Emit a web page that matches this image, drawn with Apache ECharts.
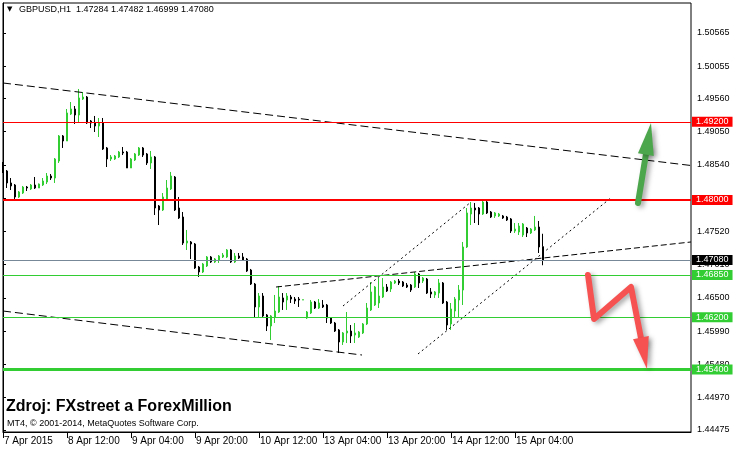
<!DOCTYPE html>
<html><head><meta charset="utf-8">
<script src="https://cdn.jsdelivr.net/npm/echarts@6/dist/echarts.min.js"></script>
<style>html,body{margin:0;padding:0;background:#fff}#c{width:734px;height:451px}</style>
</head><body><div id="c"></div>
<script>
// GBPUSD H1 bars, 7 Apr 2015 20:00 .. 15 Apr 2015 11:00
const open = [
1.48506,1.48445,1.48261,1.48230,1.48046,1.48107,1.48199,1.48169,1.48230,1.48184,
1.48230,1.48276,1.48368,1.48337,1.48598,1.48982,1.48905,1.49319,1.49396,1.49304,
1.49549,1.49580,1.49212,1.49181,1.49135,1.49181,1.48798,1.48629,1.48629,1.48660,
1.48736,1.48736,1.48491,1.48614,1.48690,1.48798,1.48706,1.48568,1.48660,1.47908,
1.47847,1.48015,1.48169,1.48353,1.47877,1.47739,1.47340,1.47356,1.47325,1.46972,
1.46896,1.46988,1.47126,1.47049,1.47080,1.47126,1.47126,1.47233,1.47049,1.47141,
1.47126,1.47095,1.46926,1.46711,1.46359,1.46527,1.46236,1.46067,1.46205,1.46282,
1.46497,1.46466,1.46512,1.46481,1.46481,1.46466,1.46190,1.46267,1.46435,1.46343,
1.46389,1.46389,1.46190,1.46113,1.46006,1.45822,1.45960,1.45990,1.45929,1.45898,
1.45960,1.46098,1.46313,1.46389,1.46420,1.46512,1.46665,1.46635,1.46727,1.46757,
1.46742,1.46696,1.46696,1.46665,1.46865,1.46757,1.46788,1.46589,1.46543,1.46573,
1.46727,1.46435,1.46098,1.46297,1.46466,1.46619,1.47279,1.47785,1.47877,1.47877,
1.47785,1.47969,1.47816,1.47755,1.47755,1.47755,1.47739,1.47709,1.47524,1.47509,
1.47463,1.47570,1.47494,1.47540,1.47586,1.47284];
const close = [
1.48430,1.48261,1.48215,1.48046,1.48123,1.48199,1.48184,1.48230,1.48184,1.48245,
1.48291,1.48368,1.48337,1.48629,1.48982,1.48905,1.49335,1.49396,1.49304,1.49565,
1.49580,1.49181,1.49181,1.49135,1.49181,1.48782,1.48629,1.48660,1.48675,1.48736,
1.48721,1.48491,1.48629,1.48706,1.48798,1.48690,1.48568,1.48660,1.47877,1.47847,
1.48046,1.48184,1.48368,1.47847,1.47724,1.47340,1.47371,1.47325,1.46957,1.46896,
1.47018,1.47126,1.47049,1.47095,1.47141,1.47156,1.47233,1.47049,1.47141,1.47110,
1.47080,1.46911,1.46711,1.46359,1.46527,1.46221,1.46067,1.46221,1.46297,1.46512,
1.46435,1.46527,1.46481,1.46451,1.46466,1.46470,1.46282,1.46435,1.46343,1.46420,
1.46359,1.46190,1.46113,1.45990,1.45822,1.45960,1.45990,1.45914,1.45960,1.45975,
1.46098,1.46343,1.46589,1.46665,1.46527,1.46665,1.46604,1.46742,1.46757,1.46727,
1.46681,1.46665,1.46619,1.46865,1.46727,1.46803,1.46573,1.46558,1.46589,1.46727,
1.46420,1.46082,1.46328,1.46481,1.46619,1.47279,1.47801,1.47877,1.47847,1.47785,
1.47969,1.47801,1.47739,1.47801,1.47785,1.47724,1.47693,1.47524,1.47555,1.47601,
1.47632,1.47494,1.47555,1.47586,1.47279,1.47080];
const low = [
1.48414,1.48184,1.48153,1.48000,1.48031,1.48092,1.48138,1.48153,1.48169,1.48184,
1.48215,1.48245,1.48307,1.48261,1.48568,1.48798,1.48905,1.49304,1.49166,1.49181,
1.49534,1.49166,1.49104,1.49043,1.48966,1.48767,1.48506,1.48598,1.48614,1.48644,
1.48690,1.48491,1.48491,1.48598,1.48675,1.48660,1.48537,1.48476,1.47770,1.47616,
1.47831,1.48000,1.48153,1.47831,1.47709,1.47310,1.47233,1.47095,1.46942,1.46819,
1.46880,1.46972,1.47034,1.47034,1.47034,1.47110,1.47110,1.47034,1.47034,1.47095,
1.47064,1.46896,1.46696,1.46205,1.46205,1.46205,1.45990,1.45852,1.46113,1.46267,
1.46313,1.46313,1.46420,1.46405,1.46359,1.46466,1.46175,1.46251,1.46328,1.46328,
1.46343,1.46113,1.46098,1.45975,1.45653,1.45776,1.45806,1.45806,1.45806,1.45883,
1.45944,1.46082,1.46297,1.46374,1.46343,1.46497,1.46589,1.46589,1.46711,1.46696,
1.46665,1.46650,1.46589,1.46650,1.46650,1.46727,1.46558,1.46497,1.46497,1.46497,
1.46405,1.46006,1.46006,1.46205,1.46190,1.46389,1.47264,1.47616,1.47647,1.47616,
1.47770,1.47785,1.47724,1.47724,1.47739,1.47709,1.47678,1.47494,1.47494,1.47463,
1.47432,1.47432,1.47478,1.47524,1.47187,1.46999];
const high = [
1.48583,1.48460,1.48337,1.48245,1.48138,1.48215,1.48215,1.48245,1.48353,1.48253,
1.48337,1.48414,1.48399,1.48644,1.48997,1.48997,1.49396,1.49503,1.49442,1.49703,
1.49657,1.49595,1.49227,1.49289,1.49258,1.49258,1.48813,1.48690,1.48690,1.48752,
1.48813,1.48752,1.48644,1.48721,1.48813,1.48813,1.48721,1.48752,1.48675,1.47923,
1.48107,1.48307,1.48430,1.48368,1.48046,1.47816,1.47540,1.47371,1.47340,1.46988,
1.47034,1.47141,1.47141,1.47110,1.47156,1.47187,1.47248,1.47248,1.47187,1.47187,
1.47187,1.47110,1.46942,1.46727,1.46573,1.46573,1.46251,1.46236,1.46543,1.46681,
1.46573,1.46573,1.46543,1.46512,1.46512,1.46470,1.46297,1.46466,1.46451,1.46481,
1.46466,1.46405,1.46205,1.46129,1.46021,1.45975,1.46282,1.46082,1.46113,1.45990,
1.46113,1.46420,1.46742,1.46681,1.46803,1.46803,1.46711,1.46757,1.46773,1.46788,
1.46757,1.46727,1.46711,1.46896,1.46880,1.46819,1.46803,1.46650,1.46604,1.46788,
1.46742,1.46451,1.46420,1.46512,1.46696,1.47356,1.47877,1.47969,1.47954,1.47892,
1.47985,1.48000,1.47831,1.47816,1.47801,1.47770,1.47755,1.47724,1.47647,1.47647,
1.47647,1.47586,1.47570,1.47755,1.47678,1.47482];

const xTickLabels = ['7 Apr 2015','8 Apr 12:00','9 Apr 04:00','9 Apr 20:00','10 Apr 12:00','13 Apr 04:00','13 Apr 20:00','14 Apr 12:00','15 Apr 04:00'];
const barsPerXTick = 16;
const yTickValues = [1.44475,1.44970,1.45480,1.45990,1.46500,1.47010,1.47520,1.48030,1.48540,1.49050,1.49560,1.50055,1.50565];

// horizontal levels
const levels = [1.49200, 1.48000, 1.47080, 1.46850, 1.46200, 1.45400];
// trend lines [barIndex, price]
const trendUpper = [[0, 1.49795], [172, 1.48529]];
const trendLower = [[0, 1.46297], [89.75, 1.45622]];
const trendMid = [[68.25, 1.46665], [172, 1.47356]];
const channelTop = [[85, 1.46374], [117, 1.47969]];
const channelBottom = [[103.75, 1.45638], [152.25, 1.48046]];
// arrows [barIndex, price]
const greenArrow = [[158.75, 1.47954], [162, 1.49181]];
const redArrow = [[146.25, 1.46850], [147.75, 1.46175], [157, 1.46665], [161, 1.45407]];

const levelLineColor = ['#ff0000','#ff0000','#778899','#32cd32','#32cd32','#32cd32'];
const levelLineWidth = [1, 2, 1, 1, 1, 3];
const levelLabelBg = ['#ff0000','#ff0000','#000000','#32cd32','#32cd32','#32cd32'];

const FONT = 'Liberation Sans, Arial, sans-serif';
const last = open.length - 1;
const candles = open.map((o, i) => [i, o, close[i], low[i], high[i]]);
const xTickValues = xTickLabels.map((_, k) => k * barsPerXTick);

function arrowSeries(points, color) {
  return {
    type: 'custom', coordinateSystem: 'cartesian2d', data: [[0, 1.47]], z: 10, silent: true,
    animation: false,
    renderItem: function (params, api) {
      const px = points.map(p => api.coord(p));
      const n = px.length;
      const tip = px[n - 1], prev = px[n - 2];
      const dx = tip[0] - prev[0], dy = tip[1] - prev[1];
      const len = Math.hypot(dx, dy);
      const ux = dx / len, uy = dy / len;
      const hl = 32, hw = 8;
      const base = [tip[0] - ux * hl, tip[1] - uy * hl];
      const shaftEnd = [tip[0] - ux * (hl - 6), tip[1] - uy * (hl - 6)];
      const shaft = px.slice(0, n - 1).concat([shaftEnd]);
      const left = [base[0] - uy * hw, base[1] + ux * hw];
      const right = [base[0] + uy * hw, base[1] - ux * hw];
      const sh = { shadowBlur: 5, shadowColor: 'rgba(0,0,0,0.35)', shadowOffsetX: 3, shadowOffsetY: 2 };
      return {
        type: 'group', children: [
          { type: 'polyline', shape: { points: shaft },
            style: Object.assign({ stroke: color, lineWidth: 6, fill: null, lineJoin: 'round', lineCap: 'round' }, sh) },
          { type: 'polygon', shape: { points: [tip, left, right] },
            style: Object.assign({ fill: color }, sh) }
        ]
      };
    }
  };
}

function trend(data, dash) {
  return { type: 'line', data: data, symbol: 'none', silent: true, animation: false, z: 4,
    lineStyle: { color: '#000', width: 1, type: dash } };
}

const chart = echarts.init(document.getElementById('c'), null, { renderer: 'canvas' });
chart.setOption({
  animation: false,
  backgroundColor: '#fff',
  textStyle: { fontFamily: FONT },
  grid: { left: 3, right: 43, top: 3, bottom: 19, show: true, borderColor: '#000', borderWidth: 1 },
  xAxis: {
    type: 'value', min: 0, max: 172,
    axisLine: { show: true, lineStyle: { color: '#000', width: 1 } },
    axisTick: { show: true, customValues: xTickValues, length: 6, lineStyle: { color: '#000' } },
    axisLabel: { customValues: xTickValues, formatter: v => xTickLabels[Math.round(v / barsPerXTick)] || '',
      align: 'left', color: '#000', fontSize: 10, fontFamily: FONT, margin: 4, padding: [0, 0, 0, 1] },
    splitLine: { show: false }
  },
  yAxis: {
    type: 'value', position: 'right', min: 1.44441, max: 1.51022,
    axisLine: { show: true, lineStyle: { color: '#000', width: 1 } },
    axisTick: { show: true, customValues: yTickValues, length: 3, lineStyle: { color: '#000' } },
    axisLabel: { customValues: yTickValues, formatter: v => v.toFixed(5), color: '#000', fontSize: 9,
      fontFamily: FONT, margin: 6 },
    splitLine: { show: false }
  },
  series: [
    {
      type: 'candlestick', data: candles, encode: { x: 0, y: [1, 2, 3, 4] },
      barWidth: 2, silent: true, z: 2,
      itemStyle: { color: '#32cd32', color0: '#000000', borderColor: '#32cd32', borderColor0: '#000000', borderWidth: 1 },
      markLine: {
        symbol: 'none', silent: true, animation: false, precision: 5,
        data: levels.map((v, k) => ({
          yAxis: v,
          lineStyle: { color: levelLineColor[k], width: levelLineWidth[k], type: 'solid' },
          label: { show: true, position: 'end', formatter: v.toFixed(5), backgroundColor: levelLabelBg[k],
            color: '#fff', fontSize: 9, fontFamily: FONT, padding: [1, 4, 0, 4], distance: 1 }
        }))
      }
    },
    trend(trendUpper, [8, 4]),
    trend(trendLower, [8, 4]),
    trend(trendMid, [6, 3]),
    trend(channelTop, [2, 3]),
    trend(channelBottom, [2, 3]),
    arrowSeries(greenArrow, '#4ca64c'),
    arrowSeries(redArrow, '#f75252')
  ],
  graphic: [
    { type: 'text', left: 7, top: 6, style: { text: '▼', fontSize: 7, fill: '#000', fontFamily: 'DejaVu Sans' } },
    { type: 'text', left: 19, top: 5, style: {
        text: 'GBPUSD,H1  ' + [open[last], high[last], low[last], close[last]].map(v => v.toFixed(5)).join(' '),
        fontSize: 9, fill: '#000', fontFamily: FONT } },
    { type: 'text', left: 6, top: 399, style: { text: 'Zdroj: FXstreet a ForexMillion', fontSize: 16,
        fontWeight: 'bold', fill: '#000', fontFamily: FONT } },
    { type: 'text', left: 7, top: 419, style: { text: 'MT4, © 2001-2014, MetaQuotes Software Corp.', fontSize: 9,
        fill: '#000', fontFamily: FONT } }
  ]
});
</script>
</body></html>
